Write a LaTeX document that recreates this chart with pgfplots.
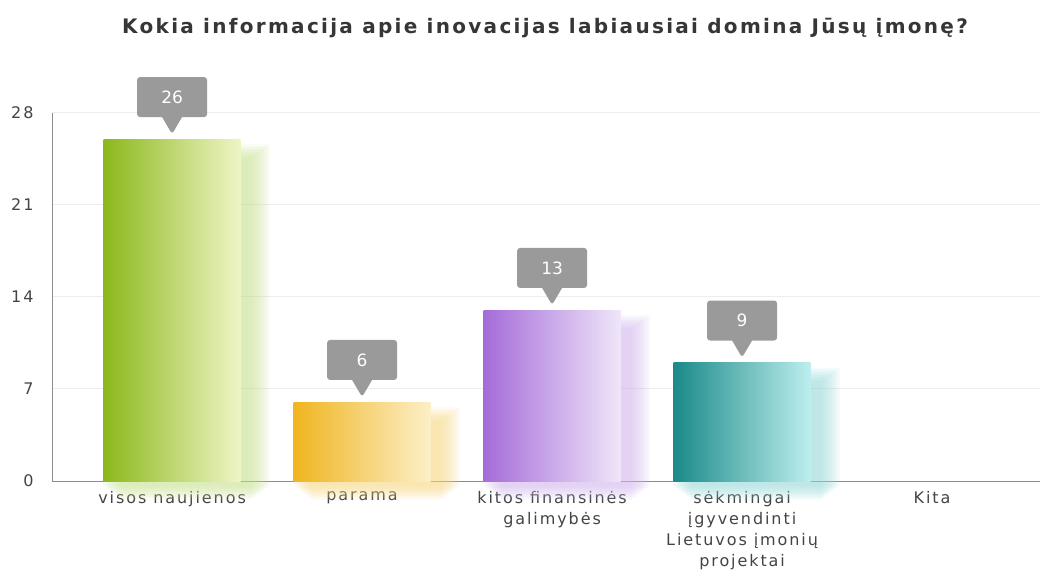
\documentclass[border=0pt]{standalone}
\usepackage{pgfplots}
\pgfplotsset{compat=1.18}
\usepackage{fontspec}
\setmainfont{DejaVu Sans}
\newfontfamily\labfont[LetterSpace=12]{DejaVu Sans}
\newfontfamily\titlefont[LetterSpace=11.5]{DejaVu Sans}
\usetikzlibrary{shapes.callouts}
\definecolor{gL}{HTML}{8CB81C}\definecolor{gR}{HTML}{EEF5C6}\definecolor{gS}{HTML}{C8E090}
\definecolor{oL}{HTML}{F0B520}\definecolor{oR}{HTML}{FCEFC8}\definecolor{oS}{HTML}{F6D680}
\definecolor{pL}{HTML}{A56CD8}\definecolor{pR}{HTML}{EFE6F9}\definecolor{pS}{HTML}{D2B6EC}
\definecolor{tL}{HTML}{1A8A88}\definecolor{tR}{HTML}{BDEEEE}\definecolor{tS}{HTML}{98D8D8}
\definecolor{cgray}{HTML}{9A9A9A}
\definecolor{txt}{HTML}{444444}
\newcommand{\sh}[5]{%
  \addplot[ybar, bar width=#4, bar shift=14pt, draw=none, fill=#1, fill opacity=0.09, yshift=#5, forget plot] coordinates {(#2,#3)};}
\newcommand{\shadowbar}[3]{%
  \sh{#1}{#2}{#3}{167pt}{-5pt}\sh{#1}{#2}{#3}{163pt}{-6.5pt}\sh{#1}{#2}{#3}{159pt}{-8pt}
  \sh{#1}{#2}{#3}{155pt}{-9.5pt}\sh{#1}{#2}{#3}{151pt}{-11pt}\sh{#1}{#2}{#3}{147pt}{-12.5pt}
  \sh{#1}{#2}{#3}{143pt}{-14pt}\sh{#1}{#2}{#3}{139pt}{-15.5pt}\sh{#1}{#2}{#3}{135pt}{-17pt}
  \sh{#1}{#2}{#3}{131pt}{-18.5pt}
}
\pgfplotsset{
  layers/mylayers/.define layer set={axis background,axis grid,main,axis ticks,axis lines,axis tick labels,axis descriptions,axis foreground}{},
  callout/.style={nodes near coords,
  every node near coord/.append style={rectangle callout, fill=cgray, text=white,
    font=\fontsize{17}{17}\selectfont, minimum width=70pt, minimum height=40pt,
    inner sep=0pt, rounded corners=3pt, callout relative pointer={(0pt,-17pt)},
    callout pointer width=20pt,
    anchor=south, yshift=22pt}}}
\begin{document}
\begin{tikzpicture}
\path (0,0) rectangle (1044pt,570pt);
\node[text=txt!80!black, font=\titlefont\bfseries\fontsize{20}{20}\selectfont] at (545pt,542pt)
  {Kokia informacija apie inovacijas labiausiai domina Jūsų įmonę?};
\begin{axis}[
  set layers=mylayers,
  at={(52pt,89pt)}, anchor=south west,
  scale only axis, width=988pt, height=368pt,
  xmin=-0.632, xmax=4.568, ymin=0, ymax=28,
  clip=false,
  separate axis lines,
  axis x line=bottom, axis y line=left,
  axis line style={-, color=gray!90, line width=1pt},
  ymajorgrids, grid style={color=black!7, line width=1pt},
  major tick length=0pt,
  ytick={0,7,14,21,28},
  xtick={0,1,2,3,4},
  xticklabels={{visos naujienos},{parama},{kitos finansinės\\galimybės},{sėkmingai\\įgyvendinti\\Lietuvos įmonių\\projektai},{Kita}},
  xticklabel style={align=center, text=txt, font=\labfont\fontsize{16}{21}\selectfont, yshift=-7pt},
  yticklabel style={text=txt, font=\labfont\fontsize{16}{16}\selectfont, xshift=-15pt},
  /pgf/number format/assume math mode=true,
]
\shadowbar{gS}{0}{26}
\shadowbar{oS}{1}{6}
\shadowbar{pS}{2}{13}
\shadowbar{tS}{3}{9}
\addplot[ybar, bar width=137pt, bar shift=0pt, draw=none, left color=gL, right color=gR, callout] coordinates {(0,26)};
\addplot[ybar, bar width=137pt, bar shift=0pt, draw=none, left color=oL, right color=oR, callout] coordinates {(1,6)};
\addplot[ybar, bar width=137pt, bar shift=0pt, draw=none, left color=pL, right color=pR, callout] coordinates {(2,13)};
\addplot[ybar, bar width=137pt, bar shift=0pt, draw=none, left color=tL, right color=tR, callout] coordinates {(3,9)};
\end{axis}
\end{tikzpicture}
\end{document}
